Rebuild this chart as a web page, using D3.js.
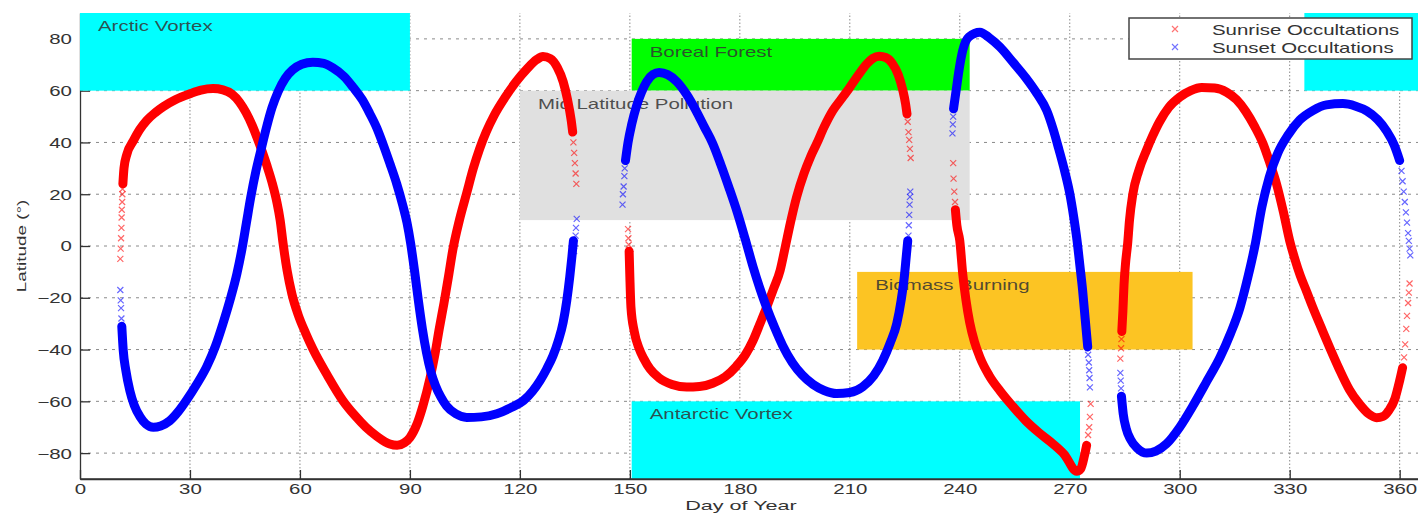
<!DOCTYPE html>
<html>
<head>
<meta charset="utf-8">
<script src="https://cdn.jsdelivr.net/npm/d3@7/dist/d3.min.js"></script>
<style>
  body { margin: 0; background: #fff; }
  svg text { font-family: "Liberation Sans", Arial, sans-serif; fill: #333; }
</style>
</head>
<body>
<div id="chart"></div>
<script>
// ---- data ----
var dayTicks = [0, 30, 60, 90, 120, 150, 180, 210, 240, 270, 300, 330, 360];
var latTicks = [-80, -60, -40, -20, 0, 20, 40, 60, 80];

var regionLabels = ["Arctic Vortex", "", "Boreal Forest", "Mid Latitude Pollution", "Biomass Burning", "Antarctic Vortex"];
var regionDays = [[0, 90], [334, 365], [150.5, 242.7], [120, 242.7], [212, 303.5], [150.5, 272.8]];
var regionLats = [[60, 90], [60, 90], [60, 80], [10, 60], [-40, -10], [-90, -60]];

var seriesNames = ["Sunrise Occultations", "Sunset Occultations"];

// dense stretches of sunrise occultations [day, latitude]
var sunriseDense = [
  [[11.7, 24], [12.0, 30], [12.8, 35.5], [14.5, 40.5], [16.3, 45], [18.2, 48.5], [20.5, 51.5], [22.7, 53.8], [26, 56.5],
   [30, 58.8], [33, 60.2], [36.3, 60.8], [39, 60.3], [41.5, 58.6], [43.5, 55.6], [45.3, 51.5], [47, 46.5], [48.4, 41.5],
   [49.7, 36.5], [51, 31], [52.4, 24.5], [53.7, 17], [54.6, 10], [55.4, 1], [56.5, -9.5], [57.8, -18.5], [59.5, -26.5],
   [61.5, -33.5], [63.6, -40], [67.5, -50], [71.7, -59.7], [75, -65.5], [78, -70], [81, -73.5], [84.5, -76.5], [86.5, -77],
   [88.5, -76], [90, -74], [92, -68.5], [93.5, -62], [95.5, -51], [96.8, -42], [98, -32], [99.3, -22], [100.5, -12],
   [101.7, -1.5], [103.5, 10], [105.5, 20.5], [107.3, 30], [109, 37.5], [110.8, 44], [113, 50.5], [116, 57.5],
   [119, 63.5], [122, 68.5], [124.6, 72], [126.3, 73.2], [128.3, 72.4], [130.2, 69], [131.8, 63.5], [133, 56.5], [134, 48.5], [134.4, 44]],
  [[149.8, -2], [150, -12], [150.3, -23.7], [151.2, -33], [152.5, -39.5], [153.8, -43.5], [155.5, -47.5], [158, -51],
   [161.5, -53.5], [165.5, -54.5], [169, -54.3], [172.6, -53], [176, -50.5], [179, -46.5], [181.5, -42], [183.6, -36.5],
   [185.5, -30], [187.3, -23.7], [189.2, -16.5], [191, -9.4], [192.3, -1], [193.8, 9], [195.5, 19], [197.5, 28],
   [199.3, 34.5], [201, 39.6], [203, 46], [205.4, 52.4], [207.8, 57], [210, 61.3], [212.3, 66], [214.6, 70.3], [216.3, 72.5],
   [218, 73.3], [219.8, 72.8], [221.6, 70.5], [223.2, 66.2], [224.4, 60.5], [225.2, 55], [225.6, 51]],
  [[238.8, 14], [239.2, 8], [240, 2], [240.8, -10.7], [241.7, -21], [242.7, -29.5], [244, -37], [245.5, -43],
   [248, -50], [251, -56], [254.5, -62], [258, -67.5], [261.5, -72], [265.4, -76.4], [268.5, -80.5], [271.9, -87],
   [273, -86], [274, -81], [274.6, -77]],
  [[284.2, -33], [284.5, -25], [284.8, -15], [285.2, -7], [285.8, 1], [286.3, 10], [287.2, 20], [288.8, 29], [290.8, 36.5],
   [292.6, 42.5], [294.5, 48], [297, 53.5], [300, 57.5], [303, 60], [306, 61.2], [309.5, 61], [312.8, 59.4],
   [315.5, 56.5], [318, 52], [320.5, 46], [322.7, 39.6], [324.6, 32], [326.4, 24], [328.3, 13], [330, 2],
   [331.4, -5], [332.9, -11.5], [334.6, -17.5], [336.3, -23.7], [338.6, -31.5], [340.9, -39.2], [343.5, -47.5],
   [346.3, -55.5], [349, -61], [351.5, -64.8], [353.7, -66.3], [355.5, -65.8], [357, -63.6], [358.7, -59], [360, -52],
   [360.8, -47]]
];

// isolated sunrise markers where the orbit moves fast
var sunriseSparse = [
  [11.0, -5], [11.1, -1], [11.2, 3], [11.3, 7], [11.35, 11], [11.4, 14], [11.5, 17], [11.55, 20], [11.6, 22],
  [134.6, 40], [134.8, 36], [135.0, 32], [135.2, 28], [135.4, 24],
  [149.5, 6.5], [149.6, 3], [149.7, 0.5],
  [225.8, 48], [226, 44], [226.2, 41], [226.4, 37.5], [226.6, 34],
  [238.2, 32], [238.3, 26], [238.5, 21], [238.7, 17],
  [275, -73], [275.3, -70], [275.5, -66], [275.7, -61],
  [283.8, -43.5], [284, -39.5], [284.1, -36],
  [361.2, -43], [361.5, -38], [361.8, -32], [362, -27], [362.3, -22], [362.5, -18], [362.7, -14.5]
];

// dense stretches of sunset occultations [day, latitude]
var sunsetDense = [
  [[11.4, -31], [11.8, -40.4], [12.5, -48], [13.6, -55.9], [14.8, -61.5], [16.4, -66], [18, -68.8], [20, -70],
   [22, -69.5], [24.5, -67.5], [26.8, -64], [29, -59.7], [31.8, -53.5], [34.6, -46.5], [37, -38.5], [39, -30], [41, -20.5],
   [42.8, -10.7], [44.2, -1], [45.4, 9], [46.6, 19], [48, 29], [49.6, 38.5], [51, 46.5], [52.4, 53.5], [54, 59.5],
   [56, 64.8], [58, 68], [60.5, 70.2], [63.5, 71], [66.5, 70.5], [69, 68.8], [72, 65.5], [74.5, 61.3], [77, 56.5],
   [79, 51.3], [81, 45.5], [82.6, 39.6], [84.5, 32], [86.4, 24], [88, 16], [89.2, 9], [90.2, 1], [91.3, -10],
   [92.3, -21], [93.4, -32], [94.5, -41], [95.7, -48.5], [97, -54], [98.5, -58.5], [100, -61.8], [102.5, -64.8],
   [105.5, -66.2], [109.5, -66], [113.7, -64.8], [117.5, -62.5], [121, -59.7], [123.5, -56], [125.5, -52],
   [127.3, -47.5], [129, -42.5], [130.5, -36.5], [131.8, -29.5], [132.8, -21], [133.6, -12], [134.2, -4], [134.6, 2]],
  [[148.8, 33], [149.5, 40], [150.5, 47], [151.8, 54], [153.2, 59.5], [154.6, 63.5], [156.3, 66.2], [158, 67], [160.3, 66.2],
   [162.8, 63.5], [165.5, 58.5], [168, 52.4], [170.3, 46], [172.6, 39.6], [174.8, 31.5], [177, 22.7], [179.3, 13],
   [181.5, 2.5], [183.6, -8], [185.5, -16.5], [187.3, -23.7], [189.5, -31.5], [191.7, -38.5], [194.3, -45],
   [197, -49.8], [200, -53.5], [203, -55.8], [206.4, -57], [210, -56.6], [213.5, -54.4], [216.5, -50.2], [219, -44.2],
   [221, -37.5], [222.8, -30], [224, -21], [224.9, -11.5], [225.4, -4], [225.8, 2]],
  [[238.3, 53], [239, 60], [239.8, 68], [240.8, 75.5], [242.5, 80.8], [245.5, 82.6], [248, 80.5], [251, 76.8],
   [254.5, 71], [258, 65], [261, 59], [263.7, 52.4], [265.5, 45], [267, 37.5], [268.6, 29], [270, 20.3], [271.1, 11],
   [272, 2], [272.8, -8], [273.5, -17], [274.2, -28], [274.9, -39]],
  [[284.1, -58], [284.6, -65], [285.4, -70.5], [286.5, -74.5], [288.5, -78.2], [291, -80], [293.5, -79.2], [296.4, -76.4],
   [300, -70], [303.5, -62], [307.3, -52.5], [311, -43], [313.8, -34], [316.4, -24], [318.6, -12], [320.5, 0],
   [322.4, 15], [324.4, 26.5], [326.8, 36], [329.6, 43], [332.7, 48.6], [336.3, 52.3], [340, 54.5], [344.5, 55],
   [348, 54], [351, 52.2], [354, 48.8], [356.4, 44.5], [358.5, 39], [360, 33]]
];

var sunsetSparse = [
  [11, -17], [11.1, -21], [11.2, -24], [11.3, -28],
  [134.8, -2], [135, 1], [135.2, 4], [135.3, 7], [135.5, 10.5],
  [148, 16], [148.1, 20], [148.3, 23], [148.5, 27], [148.6, 30],
  [226, 4], [226.1, 8], [226.2, 12], [226.3, 16], [226.4, 19], [226.5, 21],
  [238, 43.5], [238.1, 47], [238.2, 50],
  [275, -42], [275.2, -45], [275.3, -48], [275.4, -51], [275.5, -54.6],
  [283.8, -49], [283.9, -52], [284, -55],
  [360.5, 29], [360.8, 25], [361.1, 21], [361.4, 17], [361.7, 13], [362, 9], [362.3, 5], [362.5, 2], [362.7, -1], [362.9, -3.6]
];

// ---- styles ----
var regionColors = ["#00ffff", "#00ffff", "#00ff00", "#e0e0e0", "#fcc423", "#00ffff"];
var seriesColors = ["#ff0000", "#0000ff"];
var SX = 1.46;   // the picture is stretched sideways, so is its text

var width = 1418, height = 514;
var x = d3.scaleLinear().domain([0, 365]).range([80, 1418]);
var y = d3.scaleLinear().domain([-90, 90]).range([479, 13]);

var svg = d3.select("#chart").append("svg")
    .attr("width", width)
    .attr("height", height);

// grid
svg.append("g").selectAll("line")
    .data(dayTicks.slice(1))
    .enter().append("line")
    .attr("x1", function (d) { return x(d); })
    .attr("x2", function (d) { return x(d); })
    .attr("y1", y(-90)).attr("y2", y(90))
    .attr("stroke", "#8a8a8a").attr("stroke-width", 1)
    .attr("stroke-dasharray", "1.5,2");
svg.append("g").selectAll("line")
    .data(latTicks)
    .enter().append("line")
    .attr("x1", x(0)).attr("x2", x(365))
    .attr("y1", function (d) { return y(d); })
    .attr("y2", function (d) { return y(d); })
    .attr("stroke", "#8a8a8a").attr("stroke-width", 1)
    .attr("stroke-dasharray", "3,5");

// axes
var yAxis = svg.append("g")
    .attr("transform", "translate(" + x(0) + ",0)")
    .call(d3.axisLeft(y).tickValues(latTicks).tickSizeInner(-10).tickSizeOuter(0).tickPadding(0));
var xAxis = svg.append("g")
    .attr("transform", "translate(0," + y(-90) + ")")
    .call(d3.axisBottom(x).tickValues(dayTicks).tickSizeInner(-9).tickSizeOuter(0).tickPadding(5));

[yAxis, xAxis].forEach(function (a) {
    a.select(".domain").attr("stroke", "#333").attr("stroke-width", 1.3);
    a.selectAll(".tick line").attr("stroke", "#333").attr("stroke-width", 1.3);
    a.selectAll(".tick text").attr("font-size", 14).attr("fill", "#333")
        .style("font-family", "'Liberation Sans', Arial, sans-serif");
});
yAxis.selectAll(".tick text").attr("x", -5.5).attr("dy", "0.35em").attr("transform", "scale(" + SX + ",1)");
xAxis.selectAll(".tick text").attr("transform", "scale(" + SX + ",1)");

// regions
var regions = regionLabels.map(function (label, i) {
    return { label: label, days: regionDays[i], lats: regionLats[i], color: regionColors[i] };
});
svg.append("g").selectAll("rect")
    .data(regions)
    .enter().append("rect")
    .attr("x", function (d) { return x(d.days[0]); })
    .attr("y", function (d) { return y(d.lats[1]); })
    .attr("width", function (d) { return x(d.days[1]) - x(d.days[0]); })
    .attr("height", function (d) { return y(d.lats[0]) - y(d.lats[1]); })
    .attr("fill", function (d) { return d.color; });

// bottom axis line shows over the Antarctic box
svg.append("line")
    .attr("x1", x(0)).attr("x2", x(365))
    .attr("y1", y(-90)).attr("y2", y(-90))
    .attr("stroke", "#333").attr("stroke-width", 1.3);

svg.append("g").selectAll("text")
    .data(regions.filter(function (d) { return d.label; }))
    .enter().append("text")
    .attr("transform", function (d) {
        return "translate(" + (x(d.days[0]) + 18) + "," + (y(d.lats[1]) + 18) + ") scale(" + SX + ",1)";
    })
    .attr("font-size", 14)
    .attr("fill", "#222")
    .attr("fill-opacity", 0.85)
    .text(function (d) { return d.label; });

// series
var line = d3.line()
    .x(function (d) { return x(d[0]); })
    .y(function (d) { return y(d[1]); })
    .curve(d3.curveMonotoneX);

function cross(s) {
    return "M" + (-s) + "," + (-s) + "L" + s + "," + s + "M" + (-s) + "," + s + "L" + s + "," + (-s);
}

[[sunriseDense, sunriseSparse], [sunsetDense, sunsetSparse]].forEach(function (ser, i) {
    var g = svg.append("g");
    g.selectAll("path.dense")
        .data(ser[0])
        .enter().append("path")
        .attr("class", "dense")
        .attr("d", line)
        .attr("fill", "none")
        .attr("stroke", seriesColors[i])
        .attr("stroke-width", 9)
        .attr("stroke-linecap", "round")
        .attr("stroke-linejoin", "round");
    g.selectAll("path.sparse")
        .data(ser[1])
        .enter().append("path")
        .attr("class", "sparse")
        .attr("transform", function (d) { return "translate(" + x(d[0]) + "," + y(d[1]) + ")"; })
        .attr("d", cross(3))
        .attr("stroke", seriesColors[i])
        .attr("stroke-opacity", 0.6)
        .attr("stroke-width", 1.2);
});

// axis titles
svg.append("text")
    .attr("transform", "translate(" + ((x(0) + x(365)) / 2 - 8) + "," + 510 + ") scale(1.6,1)")
    .attr("text-anchor", "middle")
    .attr("font-size", 13.5)
    .text("Day of Year");
svg.append("text")
    .attr("transform", "translate(26," + y(0) + ") rotate(-90) scale(1.45,1)")
    .attr("text-anchor", "middle")
    .attr("font-size", 13)
    .text("Latitude (\u00b0)");

// legend
var lg = svg.append("g")
    .attr("transform", "translate(" + (x(365) - 289) + "," + (y(90) + 5) + ")");
lg.append("rect")
    .attr("width", 283).attr("height", 41)
    .attr("fill", "#fff")
    .attr("stroke", "#444").attr("stroke-width", 1.5);
seriesNames.forEach(function (name, i) {
    lg.append("path")
        .attr("transform", "translate(46," + (11 + i * 18) + ")")
        .attr("d", cross(3))
        .attr("stroke", seriesColors[i])
        .attr("stroke-opacity", 0.55)
        .attr("stroke-width", 1.2);
    lg.append("text")
        .attr("transform", "translate(83," + (17 + i * 18) + ") scale(" + SX + ",1)")
        .attr("font-size", 14)
        .text(name);
});
</script>
</body>
</html>
